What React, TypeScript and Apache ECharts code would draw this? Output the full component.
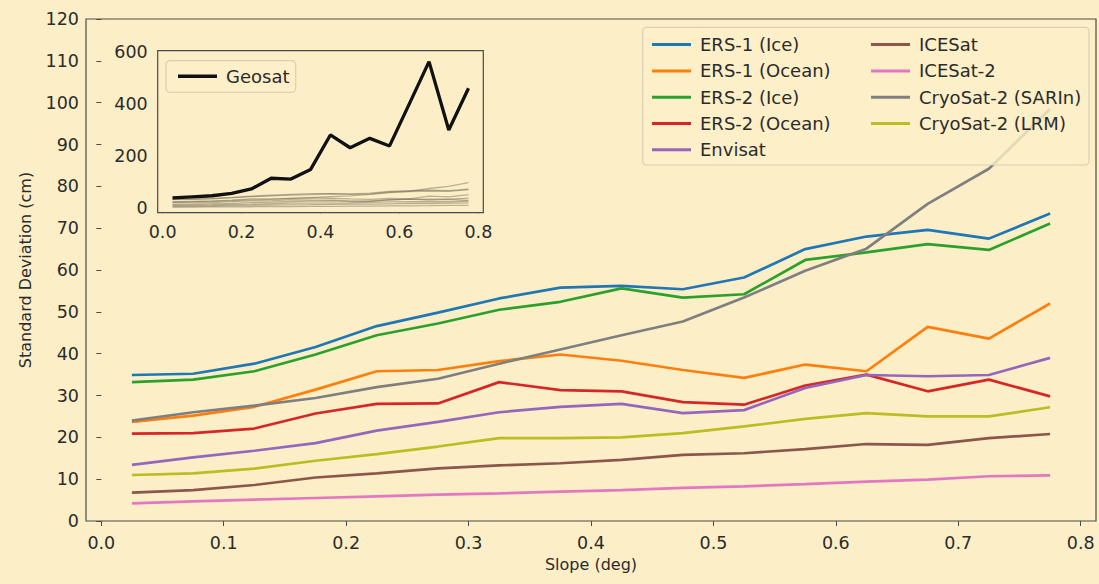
import React, { useEffect, useRef } from "react";
import * as echarts from "echarts";

const slopes = [0.025, 0.075, 0.125, 0.175, 0.225, 0.275, 0.325, 0.375, 0.425, 0.475, 0.525, 0.575, 0.625, 0.675, 0.725, 0.775];

const ers1Ice = [34.9, 35.2, 37.6, 41.6, 46.6, 49.8, 53.2, 55.8, 56.2, 55.4, 58.2, 65.0, 68.0, 69.6, 67.5, 73.5];
const ers1Ocean = [23.7, 25.2, 27.3, 31.4, 35.8, 36.1, 38.2, 39.8, 38.3, 36.1, 34.2, 37.4, 35.8, 46.4, 43.6, 52.0];
const ers2Ice = [33.2, 33.8, 35.8, 39.8, 44.4, 47.2, 50.5, 52.4, 55.6, 53.4, 54.2, 62.4, 64.2, 66.2, 64.8, 71.1];
const ers2Ocean = [20.9, 21.0, 22.1, 25.7, 28.0, 28.1, 33.2, 31.3, 31.0, 28.4, 27.8, 32.4, 35.0, 31.0, 33.8, 29.8];
const envisat = [13.4, 15.2, 16.8, 18.6, 21.6, 23.7, 26.0, 27.3, 28.0, 25.8, 26.5, 31.8, 34.9, 34.6, 34.9, 39.0];
const icesat = [6.8, 7.4, 8.6, 10.4, 11.4, 12.6, 13.3, 13.8, 14.6, 15.8, 16.2, 17.2, 18.4, 18.2, 19.8, 20.8];
const icesat2 = [4.2, 4.7, 5.1, 5.5, 5.9, 6.3, 6.6, 7.0, 7.4, 7.9, 8.3, 8.8, 9.4, 9.9, 10.7, 10.9];
const cs2Sarin = [24.0, 26.0, 27.6, 29.4, 32.0, 34.0, 37.6, 41.0, 44.4, 47.7, 53.4, 59.8, 65.1, 75.8, 84.2, 98.5];
const cs2Lrm = [11.0, 11.4, 12.5, 14.4, 16.0, 17.8, 19.8, 19.8, 20.0, 21.0, 22.6, 24.4, 25.8, 25.0, 25.0, 27.2];
const geosat = [40, 44, 48, 57, 74, 115, 112, 149, 281, 232, 268, 239, 400, 562, 300, 460];

const mainXTicks = [0, 0.1, 0.2, 0.3, 0.4, 0.5, 0.6, 0.7, 0.8];
const insetXTicks = [0, 0.2, 0.4, 0.6, 0.8];
const insetYTicks = [0, 200, 400, 600];

const seriesNames = [
  "ERS-1 (Ice)", "ERS-1 (Ocean)", "ERS-2 (Ice)", "ERS-2 (Ocean)", "Envisat",
  "ICESat", "ICESat-2", "CryoSat-2 (SARIn)", "CryoSat-2 (LRM)",
];
const seriesValues = [ers1Ice, ers1Ocean, ers2Ice, ers2Ocean, envisat, icesat, icesat2, cs2Sarin, cs2Lrm];
const seriesColors = ["#1f77b4", "#ff7f0e", "#2ca02c", "#d62728", "#9467bd", "#8c564b", "#e377c2", "#7f7f7f", "#bcbd22"];

const BG = "#fcefc7";
const FONT = "DejaVu Sans";
const TXT = "#2b2b2b";
const EDGE = "#4a4a4a";
const TICKFS = 17.5;

const pairs = (vals: number[]) => slopes.map((s, i) => [s, vals[i]]);

export default function App() {
  const ref = useRef<HTMLDivElement>(null);
  useEffect(() => {
    if (!ref.current) return;
    const chart = echarts.init(ref.current, undefined, { renderer: "svg" });

    const axisCommon = {
      axisLine: { show: false },
      splitLine: { show: false },
      axisTick: { show: true, length: 5, lineStyle: { color: EDGE, width: 1 } },
    };

    const series: any[] = [];
    seriesNames.forEach((n, i) => {
      series.push({
        name: n,
        type: "line",
        xAxisIndex: 0,
        yAxisIndex: 0,
        data: pairs(seriesValues[i]),
        showSymbol: false,
        symbol: "none",
        lineStyle: { color: seriesColors[i], width: 2.7 },
        itemStyle: { color: seriesColors[i] },
        z: 2,
      });
    });
    seriesNames.forEach((n, i) => {
      series.push({
        name: n + " (inset)",
        type: "line",
        xAxisIndex: 1,
        yAxisIndex: 1,
        data: pairs(seriesValues[i]),
        symbol: "none",
        lineStyle: { color: "rgba(110,100,80,0.45)", width: 1.3 },
        z: 3,
      });
    });
    series.push({
      name: "Geosat",
      type: "line",
      xAxisIndex: 1,
      yAxisIndex: 1,
      data: pairs(geosat),
      symbol: "none",
      lineStyle: { color: "#111111", width: 3.3 },
      itemStyle: { color: "#111111" },
      z: 4,
    });

    const legendCommon = {
      orient: "vertical",
      icon: "rect",
      itemWidth: 39,
      itemHeight: 3,
      itemGap: 8.3,
      selectedMode: false,
      z: 60,
      textStyle: { fontFamily: FONT, fontSize: 18, color: TXT, lineHeight: 18, padding: [0, 0, 0, 4] },
    };

    chart.setOption({
      animation: false,
      backgroundColor: BG,
      textStyle: { fontFamily: FONT },
      grid: [
        { left: 86, top: 19, width: 1010, height: 502, show: true, borderColor: EDGE, borderWidth: 1.2, backgroundColor: "transparent", z: 0 },
        { left: 157.7, top: 50.7, width: 325.6, height: 162, show: true, borderColor: EDGE, borderWidth: 1.2, backgroundColor: BG, z: 1 },
      ],
      xAxis: [
        {
          ...axisCommon,
          type: "value",
          gridIndex: 0,
          min: -0.0125,
          max: 0.8125,
          axisTick: { ...axisCommon.axisTick, customValues: mainXTicks },
          axisLabel: { customValues: mainXTicks, formatter: (v: number) => v.toFixed(1), fontFamily: FONT, fontSize: TICKFS, color: TXT, margin: 13 },
          name: "Slope (deg)",
          nameLocation: "middle",
          nameGap: 33,
          nameTextStyle: { fontFamily: FONT, fontSize: 16, color: TXT },
        },
        {
          ...axisCommon,
          type: "value",
          gridIndex: 1,
          min: -0.0125,
          max: 0.8125,
          axisTick: { ...axisCommon.axisTick, customValues: insetXTicks },
          axisLabel: { customValues: insetXTicks, formatter: (v: number) => v.toFixed(1), fontFamily: FONT, fontSize: TICKFS, color: TXT, margin: 10 },
        },
      ],
      yAxis: [
        {
          ...axisCommon,
          type: "value",
          gridIndex: 0,
          min: 0,
          max: 120,
          interval: 10,
          axisLabel: { fontFamily: FONT, fontSize: TICKFS, color: TXT, margin: 7 },
        },
        {
          ...axisCommon,
          type: "value",
          gridIndex: 1,
          min: -17,
          max: 604,
          axisTick: { ...axisCommon.axisTick, customValues: insetYTicks },
          axisLabel: { customValues: insetYTicks, fontFamily: FONT, fontSize: TICKFS, color: TXT, margin: 10 },
        },
      ],
      legend: [
        { ...legendCommon, left: 647, top: 30.6, data: seriesNames.slice(0, 5) },
        { ...legendCommon, left: 866, top: 30.6, data: seriesNames.slice(5) },
        { ...legendCommon, left: 173, top: 62.3, itemHeight: 3.5, data: ["Geosat"] },
      ],
      graphic: [
        {
          type: "text",
          x: 25,
          y: 270,
          rotation: Math.PI / 2,
          style: {
            text: "Standard Deviation (cm)",
            fontFamily: FONT,
            fontSize: 16,
            fill: TXT,
            align: "center",
            verticalAlign: "middle",
          },
        },
        {
          type: "rect",
          z: 50,
          shape: { x: 642.7, y: 27.3, width: 446.3, height: 137.7, r: 4 },
          style: { fill: "rgba(252,239,199,0.8)", stroke: "#d9cfb5", lineWidth: 1.2 },
        },
        {
          type: "rect",
          z: 50,
          shape: { x: 166, y: 60.7, width: 129.7, height: 31.6, r: 4 },
          style: { fill: "rgba(252,239,199,0.8)", stroke: "#d9cfb5", lineWidth: 1.2 },
        },
      ],
      series,
    });
    return () => chart.dispose();
  }, []);
  return (
    <div
      ref={ref}
      style={{ position: "absolute", left: 0, top: 0, width: 1099, height: 584, background: BG }}
    />
  );
}
